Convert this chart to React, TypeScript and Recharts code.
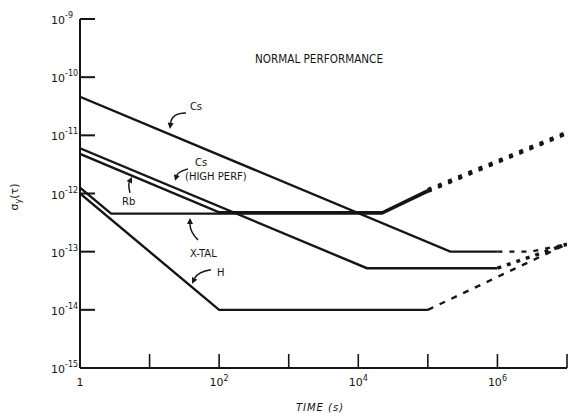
import React from 'react';
import { LineChart, Line, XAxis, YAxis, ReferenceDot, Customized } from 'recharts';

// tick values
const xTicks = [1, 10, 100, 1e3, 1e4, 1e5, 1e6, 1e7];
const xLabeled = [1, 1e2, 1e4, 1e6];
const yTicks = [1e-15, 1e-14, 1e-13, 1e-12, 1e-11, 1e-10, 1e-9];

// Cs
const csT = [1, 2.1e5, 1e6];
const csV = [4.6e-11, 1.0e-13, 1.0e-13];
const csExtT = [1e6, 3e6, 1e7];
const csExtV = [1.0e-13, 1.0e-13, 1.35e-13];

// Cs (high perf)
const csHpT = [1, 1.33e4, 1e6];
const csHpV = [6.0e-12, 5.2e-14, 5.2e-14];
const csHpExtT = [1e6, 1e7];
const csHpExtV = [5.2e-14, 1.35e-13];

// Rb
const rbT = [1, 100, 2.2e4, 1e5];
const rbV = [4.8e-12, 4.75e-13, 4.75e-13, 1.15e-12];
const rbExtT = [1e5, 1e7];
const rbExtV = [1.15e-12, 1.12e-11];

// X-TAL
const xtalT = [1, 2.8, 2.2e4, 1e5];
const xtalV = [1.26e-12, 4.5e-13, 4.5e-13, 1.08e-12];
const xtalExtT = [1e5, 1e7];
const xtalExtV = [1.08e-12, 1.07e-11];

// H maser
const hT = [1, 100, 1e5];
const hV = [1.0e-12, 1.0e-14, 1.0e-14];
const hExtT = [1e5, 1e7];
const hExtV = [1.0e-14, 1.35e-13];

// annotation arrow tips
const noteT = [19.6, 23.2, 5.59, 38.1, 40.7];
const noteV = [1.29e-11, 1.65e-12, 1.93e-12, 3.81e-13, 2.8e-14];

const toPts = (t: number[], v: number[]) => t.map((x, i) => ({ t: x, v: v[i] }));

const INK = '#151515';
const FONT = '"DejaVu Sans", sans-serif';

const exp = (v: number) => Math.round(Math.log10(v));

const XTick = (props: any) => {
  const { x, y, payload } = props;
  const v = payload.value;
  const e = exp(v);
  return (
    <g>
      {v > 1 && <line x1={x} y1={y} x2={x} y2={y - 14} stroke={INK} strokeWidth={1.6} />}
      {xLabeled.includes(v) && (
        <text x={x} y={y + 18} textAnchor="middle" fontSize={11} fill={INK} fontFamily={FONT}>
          {e === 0 ? '1' : (
            <>
              10<tspan dy={-5} fontSize={8}>{e}</tspan>
            </>
          )}
        </text>
      )}
    </g>
  );
};

const YTick = (props: any) => {
  const { x, y, payload } = props;
  const e = exp(payload.value);
  return (
    <g>
      {e > -15 && <line x1={x} y1={y} x2={x + 15} y2={y} stroke={INK} strokeWidth={2} />}
      <text x={x - 29} y={y + 5} textAnchor="start" fontSize={11} fill={INK} fontFamily={FONT}>
        10<tspan dy={-6} fontSize={8}>{e}</tspan>
      </text>
    </g>
  );
};

// label text / arrow layout relative to the arrow tip
const notes = [
  { lines: [{ s: 'Cs', dx: 20, dy: -19 }], from: [16, -16], ctrl: [2, -16] },
  { lines: [{ s: 'Cs', dx: 20, dy: -15 }, { s: '(HIGH PERF)', dx: 10, dy: -1 }], from: [13, -12], ctrl: [3, -9] },
  { lines: [{ s: 'Rb', dx: -10, dy: 28 }], from: [-2, 16], ctrl: [-4, 8] },
  { lines: [{ s: 'X-TAL', dx: 0, dy: 39 }], from: [8, 22], ctrl: [0, 14] },
  { lines: [{ s: 'H', dx: 25, dy: -8 }], from: [19, -14], ctrl: [6, -12] },
];

const Note = ({ cx, cy, idx }: any) => {
  const n = notes[idx];
  const sx = cx + n.from[0];
  const sy = cy + n.from[1];
  const qx = cx + n.ctrl[0];
  const qy = cy + n.ctrl[1];
  const ang = Math.atan2(cy - qy, cx - qx);
  const L = 6;
  const W = 3;
  const bx = cx - L * Math.cos(ang);
  const by = cy - L * Math.sin(ang);
  const head = `${cx},${cy} ${bx - W * Math.sin(ang)},${by + W * Math.cos(ang)} ${bx + W * Math.sin(ang)},${by - W * Math.cos(ang)}`;
  return (
    <g>
      <path d={`M${sx},${sy} Q${qx},${qy} ${bx},${by}`} fill="none" stroke={INK} strokeWidth={1.5} />
      <polygon points={head} fill={INK} />
      {n.lines.map((l, i) => (
        <text key={i} x={cx + l.dx} y={cy + l.dy} fontSize={10} fill={INK} fontFamily={FONT}>
          {l.s}
        </text>
      ))}
    </g>
  );
};

const Labels = () => (
  <g fill={INK} fontFamily={FONT}>
    <text x={255} y={63} fontSize={13} textLength={128} lengthAdjust="spacingAndGlyphs">
      NORMAL PERFORMANCE
    </text>
    <text x={320} y={411} fontSize={10} textAnchor="middle" fontStyle="italic" letterSpacing={1}>
      TIME (s)
    </text>
    <text x={18} y={197} fontSize={11} textAnchor="middle" transform="rotate(-90, 18, 197)">
      σ<tspan dy={3} fontSize={8}>y</tspan>
      <tspan dy={-3}>(τ)</tspan>
    </text>
  </g>
);

const solid = [
  { key: 'cs', t: csT, v: csV },
  { key: 'cshp', t: csHpT, v: csHpV },
  { key: 'rb', t: rbT, v: rbV },
  { key: 'xtal', t: xtalT, v: xtalV },
  { key: 'h', t: hT, v: hV },
];

export default function App() {
  return (
    <div style={{ position: 'absolute', left: 0, top: 0, width: 571, height: 413, background: '#fff' }}>
      <LineChart width={571} height={413} margin={{ top: 19, right: 4, left: 0, bottom: 0 }}>
        <XAxis
          dataKey="t"
          type="number"
          scale="log"
          domain={[1, 1e7]}
          ticks={xTicks}
          allowDataOverflow
          height={45}
          tickSize={0}
          tickMargin={0}
          tickLine={false}
          axisLine={{ stroke: INK, strokeWidth: 2 }}
          tick={<XTick />}
          interval={0}
        />
        <YAxis
          dataKey="v"
          type="number"
          scale="log"
          domain={[1e-15, 1e-9]}
          ticks={yTicks}
          allowDataOverflow
          width={80}
          tickSize={0}
          tickMargin={0}
          tickLine={false}
          axisLine={{ stroke: INK, strokeWidth: 2 }}
          tick={<YTick />}
          interval={0}
        />
        {solid.map((s) => (
          <Line
            key={s.key}
            data={toPts(s.t, s.v)}
            dataKey="v"
            type="linear"
            stroke={INK}
            strokeWidth={2.4}
            dot={false}
            isAnimationActive={false}
          />
        ))}
        <Line data={toPts(csExtT, csExtV)} dataKey="v" stroke={INK} strokeWidth={2.2} strokeDasharray="5 7" dot={false} isAnimationActive={false} />
        <Line data={toPts(csHpExtT, csHpExtV)} dataKey="v" stroke={INK} strokeWidth={3.5} strokeDasharray="4 6" dot={false} isAnimationActive={false} />
        <Line data={toPts(hExtT, hExtV)} dataKey="v" stroke={INK} strokeWidth={2.4} strokeDasharray="6 7" dot={false} isAnimationActive={false} />
        <Line data={toPts(rbExtT, rbExtV)} dataKey="v" stroke={INK} strokeWidth={4} strokeDasharray="4 7" dot={false} isAnimationActive={false} />
        <Line data={toPts(xtalExtT, xtalExtV)} dataKey="v" stroke={INK} strokeWidth={3} strokeDasharray="4 7" dot={false} isAnimationActive={false} />
        {noteT.map((t, i) => (
          <ReferenceDot
            key={i}
            x={t}
            y={noteV[i]}
            ifOverflow="visible"
            shape={(p: any) => <Note cx={p.cx} cy={p.cy} idx={i} />}
          />
        ))}
        <Customized component={<Labels />} />
      </LineChart>
    </div>
  );
}
